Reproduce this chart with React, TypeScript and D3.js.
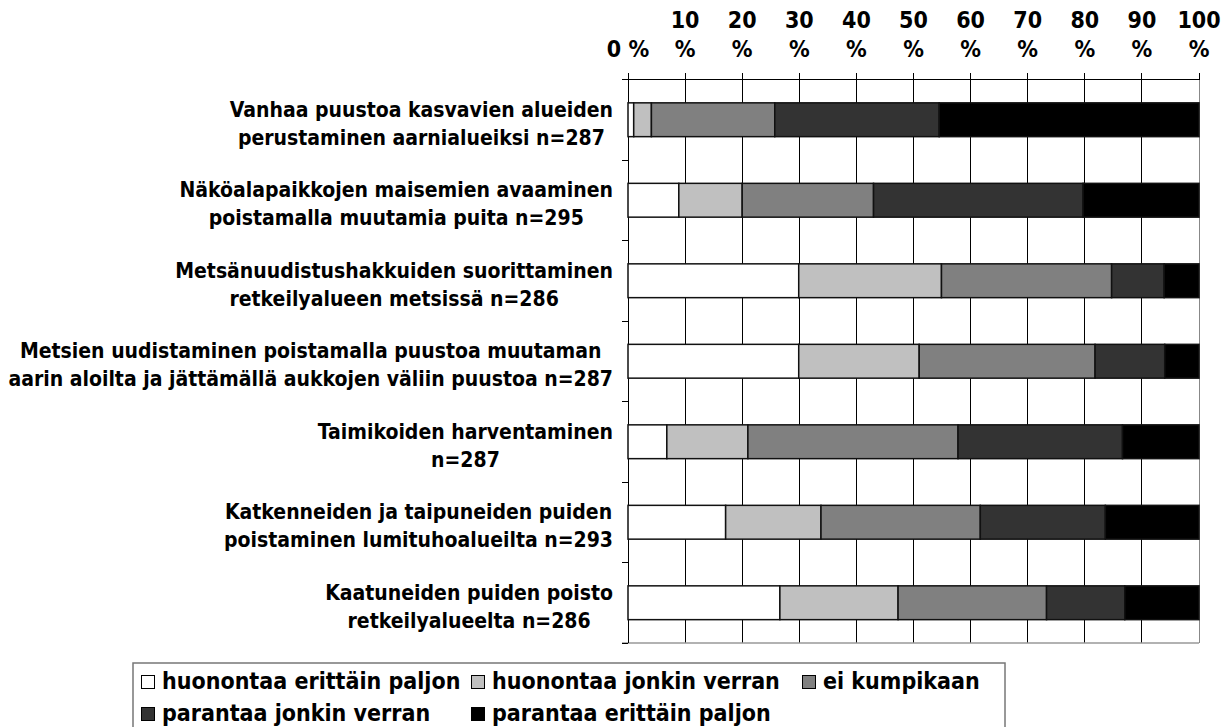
import { useEffect, useRef } from "react";
import * as d3 from "d3";

// category labels, one entry per line
const CATEGORIES = [
  ["Vanhaa puustoa kasvavien alueiden", "perustaminen aarnialueiksi n=287"],
  ["Näköalapaikkojen maisemien avaaminen", "poistamalla muutamia puita n=295"],
  ["Metsänuudistushakkuiden suorittaminen", "retkeilyalueen metsissä n=286"],
  [
    "Metsien uudistaminen poistamalla puustoa muutaman",
    "aarin aloilta ja jättämällä aukkojen väliin puustoa n=287",
  ],
  ["Taimikoiden harventaminen", "n=287"],
  ["Katkenneiden ja taipuneiden puiden", "poistaminen lumituhoalueilta n=293"],
  ["Kaatuneiden puiden poisto", "retkeilyalueelta n=286"],
];

const SERIES = [
  "huonontaa erittäin paljon",
  "huonontaa jonkin verran",
  "ei kumpikaan",
  "parantaa jonkin verran",
  "parantaa erittäin paljon",
];
const COLORS = ["#FFFFFF", "#C0C0C0", "#808080", "#333333", "#000000"];

// percentages per series, same order as CATEGORIES
const huonontaaPaljon = [1.0, 8.9, 29.9, 29.9, 6.8, 17.1, 26.6];
const huonontaaJonkin = [3.1, 11.1, 25.0, 21.1, 14.2, 16.7, 20.7];
const eiKumpikaan = [21.6, 23.0, 29.8, 30.8, 36.8, 27.9, 26.0];
const parantaaJonkin = [28.8, 36.7, 9.2, 12.2, 28.8, 21.9, 13.7];
const parantaaPaljon = [45.5, 20.3, 6.1, 6.0, 13.4, 16.4, 13.0];

const TICKS = [0, 10, 20, 30, 40, 50, 60, 70, 80, 90, 100];

const FONT = "'DejaVu Sans Condensed', 'DejaVu Sans', Verdana, sans-serif";

export default function App() {
  const ref = useRef<SVGSVGElement>(null);

  useEffect(() => {
    if (!ref.current) return;
    const svg = d3.select(ref.current);
    svg.selectAll("*").remove();

    const m = { top: 79.5, bottom: 643, left: 628, right: 1199 };

    const x = d3.scaleLinear().domain([0, 100]).range([m.left, m.right]);
    const y = d3
      .scaleBand<number>()
      .domain(CATEGORIES.map((_, i) => i))
      .range([m.top, m.bottom])
      .paddingInner(0.58)
      .paddingOuter(0.29);

    const rows = CATEGORIES.map((_, i) => ({
      i,
      [SERIES[0]]: huonontaaPaljon[i],
      [SERIES[1]]: huonontaaJonkin[i],
      [SERIES[2]]: eiKumpikaan[i],
      [SERIES[3]]: parantaaJonkin[i],
      [SERIES[4]]: parantaaPaljon[i],
    }));
    const stacked = d3.stack<any>().keys(SERIES)(rows);

    const g = svg
      .append("g")
      .attr("font-family", FONT)
      .attr("font-stretch", "condensed")
      .attr("font-weight", "bold")
      .attr("font-size", 21);

    // gridlines
    g.append("g")
      .selectAll("line")
      .data(TICKS.slice(1))
      .join("line")
      .attr("x1", (d) => x(d))
      .attr("x2", (d) => x(d))
      .attr("y1", m.top)
      .attr("y2", m.bottom)
      .attr("stroke", (d) => (d === 100 ? "#888" : "#000"))
      .attr("stroke-width", 1)
      .attr("shape-rendering", "crispEdges");

    // top axis
    g.append("line")
      .attr("x1", m.left - 6)
      .attr("x2", m.right)
      .attr("y1", m.top)
      .attr("y2", m.top)
      .attr("stroke", "#000")
      .attr("shape-rendering", "crispEdges");
    g.append("g")
      .selectAll("line")
      .data(TICKS)
      .join("line")
      .attr("x1", (d) => x(d))
      .attr("x2", (d) => x(d))
      .attr("y1", m.top - 7)
      .attr("y2", m.top)
      .attr("stroke", "#000")
      .attr("shape-rendering", "crispEdges");

    // bottom line
    g.append("line")
      .attr("x1", m.left - 6)
      .attr("x2", m.right)
      .attr("y1", m.bottom)
      .attr("y2", m.bottom)
      .attr("stroke", "#999")
      .attr("stroke-width", 1.5);

    // left axis + category boundary ticks
    g.append("line")
      .attr("x1", m.left)
      .attr("x2", m.left)
      .attr("y1", m.top)
      .attr("y2", m.bottom)
      .attr("stroke", "#000")
      .attr("shape-rendering", "crispEdges");
    const step = y.step();
    g.append("g")
      .selectAll("line")
      .data(d3.range(CATEGORIES.length + 1))
      .join("line")
      .attr("x1", m.left - 6)
      .attr("x2", m.left)
      .attr("y1", (d) => m.top + d * step)
      .attr("y2", (d) => m.top + d * step)
      .attr("stroke", "#000")
      .attr("shape-rendering", "crispEdges");

    // bars
    stacked.forEach((s, si) => {
      g.append("g")
        .selectAll("rect")
        .data(s)
        .join("rect")
        .attr("x", (d) => x(d[0]))
        .attr("y", (d) => y(d.data.i)!)
        .attr("width", (d) => x(d[1]) - x(d[0]))
        .attr("height", y.bandwidth())
        .attr("fill", COLORS[si])
        .attr("stroke", "#111")
        .attr("stroke-width", 1.5);
    });

    // tick labels ("10 %" etc. wrap to two lines)
    TICKS.forEach((t) => {
      const label = `${t} %`;
      const parts = t === 0 ? [label] : label.split(" ");
      parts.forEach((p, k) => {
        g.append("text")
          .attr("x", x(t))
          .attr("y", parts.length === 1 ? 57 : 28 + k * 29)
          .attr("text-anchor", "middle")
          .attr("font-size", 23)
          .text(p);
      });
    });

    // category labels: centered lines, block right-aligned
    const labelRight = 613;
    CATEGORIES.forEach((lines, i) => {
      const cy = y(i)! + y.bandwidth() / 2 + 4;
      const texts = lines.map((ln, k) =>
        g
          .append("text")
          .attr("y", cy + (k - (lines.length - 1) / 2) * 28 + 7)
          .attr("text-anchor", "middle")
          .text(ln)
      );
      const wMax =
        d3.max(texts, (t) => (t.node() as SVGTextElement).getComputedTextLength()) ?? 0;
      texts.forEach((t) => t.attr("x", labelRight - wMax / 2));
    });

    // legend
    const leg = g.append("g").attr("font-size", 23);
    leg
      .append("rect")
      .attr("x", 133)
      .attr("y", 663)
      .attr("width", 872)
      .attr("height", 80)
      .attr("fill", "#fff")
      .attr("stroke", "#777")
      .attr("stroke-width", 1.5);
    const colX = [141, 471, 802];
    SERIES.forEach((s, i) => {
      const cx = colX[i % 3];
      const base = i < 3 ? 689 : 721;
      leg
        .append("rect")
        .attr("x", cx + 0.5)
        .attr("y", base - 13.5)
        .attr("width", 13)
        .attr("height", 13)
        .attr("fill", COLORS[i])
        .attr("stroke", "#000")
        .attr("stroke-width", 1);
      leg
        .append("text")
        .attr("x", cx + 21)
        .attr("y", base)
        .text(s);
    });
  }, []);

  return (
    <svg
      ref={ref}
      width={1232}
      height={727}
      style={{ position: "absolute", left: 0, top: 0, background: "#fff" }}
    />
  );
}
